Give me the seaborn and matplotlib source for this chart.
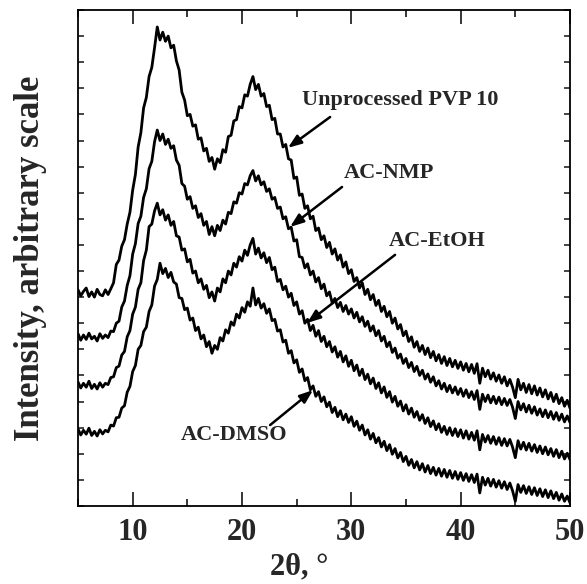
import numpy as np
import pandas as pd
import matplotlib
matplotlib.use("Agg")
import matplotlib.pyplot as plt
import seaborn as sns
from matplotlib.ticker import MultipleLocator

# 2-theta sampling grid, 5..50 degrees in 0.25 degree steps (181 points)
two_theta = [5.0 + 0.25 * i for i in range(181)]

unprocessed_pvp10 = [
    8.28, 8.05, 8.22, 8.35, 8.02, 8.2, 8.0, 8.3, 8.1, 8.05,
    8.28, 8.1, 8.32, 8.55, 9.25, 9.42, 9.95, 10.2, 10.8, 11.25,
    12.1, 12.7, 13.75, 14.3, 15.25, 15.65, 16.45, 16.8, 17.55, 18.35,
    17.85, 18.15, 17.8, 18.0, 17.55, 17.65, 17.05, 16.7, 15.85, 15.55,
    14.95, 15.0, 14.55, 14.6, 14.05, 14.1, 13.6, 13.7, 13.2, 13.35,
    12.9, 13.3, 13.15, 13.65, 13.55, 14.15, 14.2, 14.75, 14.8, 15.3,
    15.25, 15.75, 15.7, 16.15, 16.45, 15.95, 16.15, 15.7, 15.8, 15.3,
    15.35, 14.8, 14.85, 14.25, 14.25, 13.75, 13.85, 13.3, 13.25, 12.55,
    12.6, 11.9, 11.95, 11.4, 11.5, 11.0, 11.1, 10.55, 10.65, 10.2,
    10.35, 9.9, 10.1, 9.65, 9.85, 9.42, 9.62, 9.15, 9.35, 8.9,
    9.05, 8.6, 8.75, 8.35, 8.55, 8.1, 8.3, 7.9, 8.1, 7.68,
    7.88, 7.45, 7.65, 7.25, 7.45, 7.0, 7.2, 6.78, 6.95, 6.52,
    6.7, 6.3, 6.48, 6.08, 6.3, 5.92, 6.15, 5.8, 6.05, 5.68,
    5.92, 5.56, 5.8, 5.46, 5.72, 5.38, 5.65, 5.33, 5.58, 5.27,
    5.52, 5.2, 5.46, 5.14, 5.42, 5.08, 5.45, 4.7, 5.28, 4.95,
    5.2, 4.86, 5.1, 4.78, 5.02, 4.7, 4.95, 4.6, 4.85, 4.55,
    4.15, 4.85, 4.45, 4.7, 4.35, 4.65, 4.3, 4.6, 4.25, 4.52,
    4.18, 4.45, 4.1, 4.35, 4.0, 4.28, 3.92, 4.15, 3.82, 4.05,
    3.75]

ac_nmp = [
    6.6, 6.35, 6.55, 6.38, 6.62, 6.4, 6.5, 6.32, 6.6, 6.42,
    6.55, 6.45, 6.7, 6.68, 7.0, 7.08, 7.62, 7.85, 8.45, 8.82,
    9.65, 10.05, 10.82, 11.1, 11.82, 12.15, 12.92, 13.2, 13.95, 14.4,
    14.0, 14.25, 13.85, 14.05, 13.7, 13.8, 13.25, 13.05, 12.35, 12.25,
    11.75, 11.85, 11.4, 11.5, 11.05, 11.2, 10.75, 10.9, 10.4, 10.7,
    10.35, 10.75, 10.55, 10.95, 10.8, 11.25, 11.2, 11.65, 11.6, 12.0,
    11.95, 12.35, 12.3, 12.65, 12.85, 12.45, 12.65, 12.3, 12.42, 12.05,
    12.15, 11.75, 11.82, 11.4, 11.45, 11.0, 11.08, 10.62, 10.68, 10.15,
    10.2, 9.55, 9.52, 9.12, 9.28, 8.85, 9.0, 8.58, 8.75, 8.32,
    8.5, 8.05, 8.2, 7.78, 7.95, 7.6, 7.8, 7.45, 7.68, 7.35,
    7.55, 7.2, 7.42, 7.05, 7.25, 6.88, 7.08, 6.7, 6.9, 6.52,
    6.72, 6.32, 6.5, 6.1, 6.28, 5.88, 6.05, 5.66, 5.82, 5.46,
    5.65, 5.3, 5.5, 5.15, 5.35, 5.0, 5.2, 4.86, 5.06, 4.74,
    4.95, 4.6, 4.8, 4.48, 4.7, 4.38, 4.62, 4.33, 4.56, 4.27,
    4.5, 4.2, 4.45, 4.15, 4.38, 4.08, 4.42, 3.7, 4.28, 4.0,
    4.25, 3.95, 4.2, 3.92, 4.17, 3.88, 4.12, 3.85, 4.08, 3.78,
    3.35, 4.0, 3.68, 3.92, 3.6, 3.86, 3.55, 3.8, 3.48, 3.72,
    3.42, 3.68, 3.38, 3.62, 3.32, 3.58, 3.28, 3.52, 3.22, 3.45,
    3.2]

ac_etoh = [
    4.75, 4.52, 4.7, 4.55, 4.78, 4.5, 4.66, 4.48, 4.72, 4.55,
    4.7, 4.65, 4.92, 4.95, 5.3, 5.36, 5.78, 5.92, 6.48, 6.72,
    7.35, 7.62, 8.3, 8.55, 9.4, 9.8, 10.7, 10.8, 11.3, 11.6,
    11.15, 11.35, 10.95, 11.15, 10.75, 10.9, 10.35, 10.3, 9.8, 9.85,
    9.35, 9.45, 8.92, 9.0, 8.55, 8.7, 8.3, 8.45, 7.98, 8.2,
    7.85, 8.35, 8.2, 8.7, 8.55, 9.0, 8.85, 9.3, 9.15, 9.55,
    9.38, 9.8, 9.6, 10.0, 10.25, 9.65, 9.88, 9.5, 9.7, 9.32,
    9.52, 9.05, 9.15, 8.6, 8.68, 8.28, 8.42, 8.0, 8.15, 7.68,
    7.82, 7.35, 7.48, 7.0, 7.15, 6.72, 6.92, 6.5, 6.72, 6.3,
    6.5, 6.1, 6.3, 5.9, 6.1, 5.7, 5.92, 5.52, 5.75, 5.35,
    5.58, 5.18, 5.4, 5.0, 5.24, 4.84, 5.05, 4.68, 4.9, 4.5,
    4.72, 4.33, 4.56, 4.16, 4.38, 3.98, 4.2, 3.82, 4.02, 3.64,
    3.88, 3.52, 3.75, 3.4, 3.62, 3.28, 3.5, 3.16, 3.38, 3.04,
    3.26, 2.92, 3.15, 2.82, 3.05, 2.74, 3.0, 2.7, 2.96, 2.66,
    2.92, 2.6, 2.88, 2.56, 2.82, 2.52, 2.88, 2.15, 2.74, 2.45,
    2.7, 2.4, 2.66, 2.36, 2.62, 2.32, 2.58, 2.3, 2.55, 2.25,
    1.85, 2.5, 2.18, 2.44, 2.14, 2.4, 2.1, 2.35, 2.05, 2.3,
    2.0, 2.26, 1.96, 2.2, 1.9, 2.16, 1.85, 2.1, 1.8, 2.02,
    1.78]

ac_dmso = [
    2.95, 2.72, 2.9, 2.75, 2.98, 2.7, 2.86, 2.68, 2.92, 2.76,
    2.9, 2.84, 3.1, 3.06, 3.38, 3.4, 3.75, 3.84, 4.36, 4.58,
    5.15, 5.38, 6.0, 6.15, 6.68, 6.85, 7.45, 7.7, 8.42, 8.68,
    9.3, 8.9, 9.1, 8.75, 8.95, 8.58, 8.5, 7.98, 7.95, 7.52,
    7.58, 7.12, 7.2, 6.72, 6.85, 6.4, 6.55, 6.1, 6.3, 5.85,
    6.15, 6.0, 6.45, 6.32, 6.75, 6.62, 7.05, 6.92, 7.35, 7.2,
    7.6, 7.42, 7.82, 7.65, 8.35, 7.7, 7.95, 7.58, 7.75, 7.38,
    7.55, 7.1, 7.15, 6.7, 6.75, 6.28, 6.35, 5.85, 5.95, 5.48,
    5.6, 5.12, 5.25, 4.8, 4.92, 4.45, 4.6, 4.2, 4.38, 4.0,
    4.18, 3.8, 3.98, 3.58, 3.78, 3.42, 3.65, 3.3, 3.52, 3.2,
    3.42, 3.05, 3.25, 2.9, 3.1, 2.72, 2.92, 2.56, 2.78, 2.42,
    2.62, 2.26, 2.48, 2.12, 2.35, 1.98, 2.2, 1.84, 2.05, 1.7,
    1.9, 1.56, 1.78, 1.46, 1.7, 1.38, 1.62, 1.3, 1.55, 1.24,
    1.48, 1.18, 1.44, 1.14, 1.4, 1.1, 1.36, 1.06, 1.32, 1.02,
    1.28, 0.98, 1.24, 0.94, 1.2, 0.9, 1.22, 0.5, 1.1, 0.8,
    1.06, 0.76, 1.02, 0.72, 0.97, 0.68, 0.93, 0.63, 0.88, 0.58,
    0.18, 0.82, 0.52, 0.78, 0.48, 0.74, 0.44, 0.7, 0.4, 0.66,
    0.36, 0.62, 0.32, 0.58, 0.28, 0.52, 0.22, 0.46, 0.18, 0.38,
    0.12]

sample_names = ["Unprocessed PVP 10", "AC-NMP", "AC-EtOH", "AC-DMSO"]
x_ticks = [10, 20, 30, 40, 50]
x_label = "2\u03b8, \u00b0"
y_label = "Intensity, arbitrary scale"

series = [unprocessed_pvp10, ac_nmp, ac_etoh, ac_dmso]
frames = [pd.DataFrame({"two_theta": two_theta, "intensity": s, "sample": n})
          for n, s in zip(sample_names, series)]
df = pd.concat(frames, ignore_index=True)

sns.set_style("ticks")
plt.rcParams["font.family"] = ["Liberation Serif", "DejaVu Serif"]
plt.rcParams["font.weight"] = "bold"

fig = plt.figure(figsize=(5.87, 5.84), dpi=100)
ax = fig.add_axes([0.1329, 0.1336, 0.971 - 0.1329, 0.9829 - 0.1336])

sns.lineplot(data=df, x="two_theta", y="intensity", hue="sample",
             palette=["black"] * 4, legend=False, linewidth=2.0,
             estimator=None, sort=False, ax=ax)

ax.set_xlim(5, 50)
ax.set_ylim(0, 19)
ax.set_xticks(x_ticks)
ax.xaxis.set_minor_locator(MultipleLocator(5))
ax.yaxis.set_major_locator(MultipleLocator(1))
ax.set_yticklabels([])
ax.tick_params(axis="x", which="major", direction="in", length=10, width=1.3,
               top=True, labelsize=22, pad=9)
ax.tick_params(axis="x", which="minor", direction="in", length=5, width=1.3, top=True)
ax.tick_params(axis="y", which="major", direction="in", length=4, width=1.2, right=True)
for lab in ax.get_xticklabels():
    lab.set_fontweight("bold")
for sp in ax.spines.values():
    sp.set_linewidth(1.3)
    sp.set_color("black")

ax.set_xlabel(x_label, fontsize=22, fontweight="bold")
ax.xaxis.set_label_coords(0.449, -0.094)
ax.set_ylabel(y_label, fontsize=25, fontweight="bold")
ax.yaxis.set_label_coords(-0.063, 0.5)

arrow = dict(arrowstyle="-|>,head_length=0.8,head_width=0.3", color="black", lw=1.8,
             shrinkA=0, shrinkB=0)
ann_fs = 16
ax.annotate("", xy=(24.2, 13.72), xytext=(28.06, 14.9), arrowprops=arrow)
ax.text(34.46, 15.56, sample_names[0], fontsize=ann_fs, fontweight="bold",
        ha="center", va="center")
ax.annotate("", xy=(24.4, 10.69), xytext=(29.15, 12.22), arrowprops=arrow)
ax.text(33.45, 12.76, sample_names[1], fontsize=ann_fs, fontweight="bold",
        ha="center", va="center")
ax.annotate("", xy=(25.95, 7.01), xytext=(34.0, 9.62), arrowprops=arrow)
ax.text(37.85, 10.15, sample_names[2], fontsize=ann_fs, fontweight="bold",
        ha="center", va="center")
ax.annotate("", xy=(26.5, 4.44), xytext=(22.57, 3.1), arrowprops=arrow)
ax.text(19.27, 2.72, sample_names[3], fontsize=ann_fs, fontweight="bold",
        ha="center", va="center")

fig.savefig("out.png", dpi=100)
